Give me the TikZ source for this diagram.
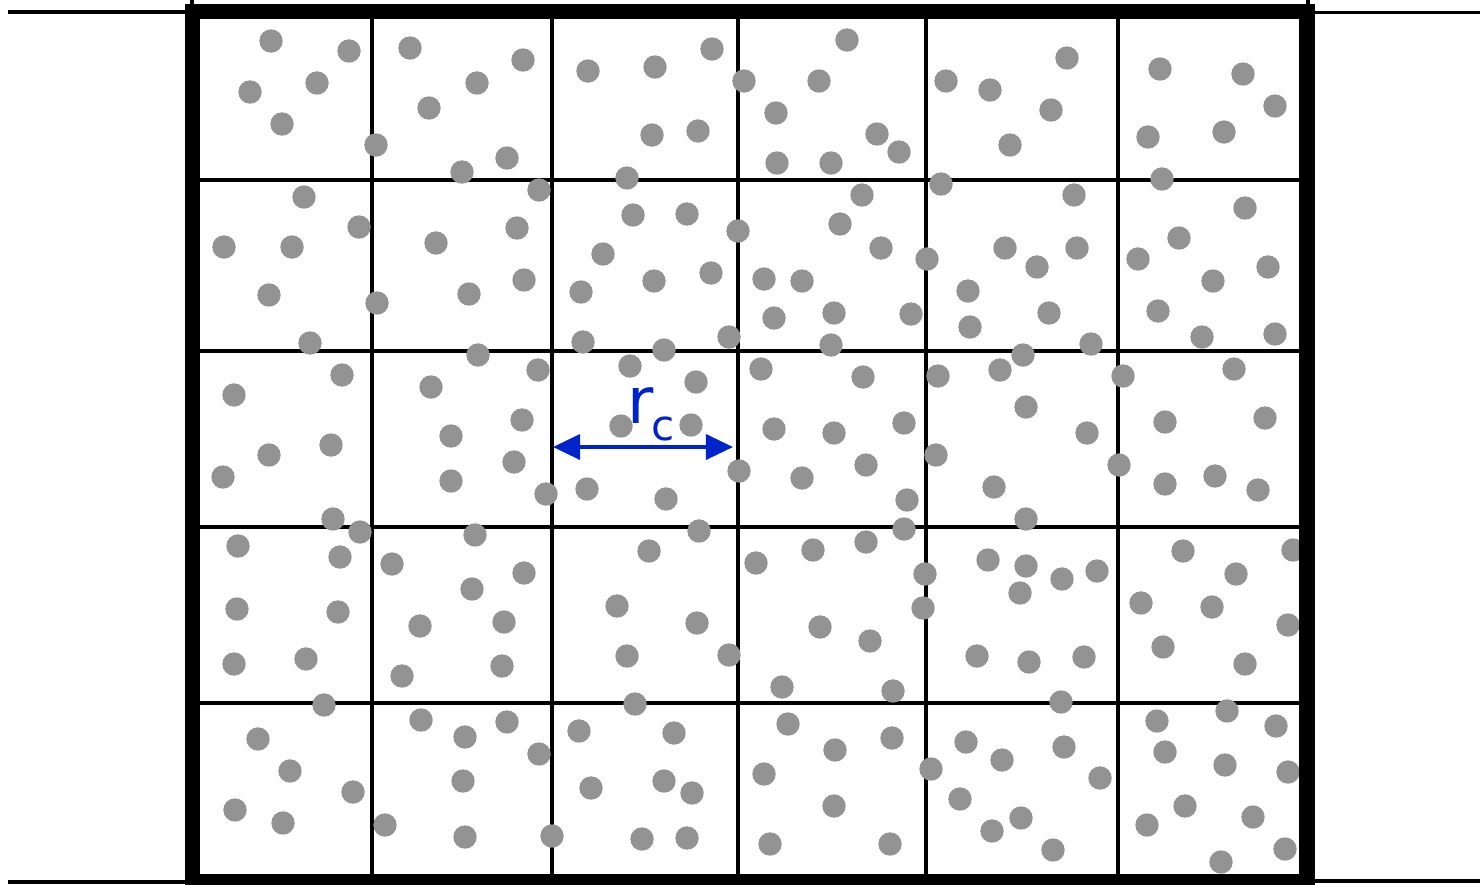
\documentclass[tikz,border=0pt]{standalone}
\usepackage{fontspec}
\newfontfamily\labelfont{DejaVu Sans}
\usetikzlibrary{arrows.meta}
\definecolor{dotgray}{RGB}{147,147,147}
\definecolor{rcblue}{RGB}{0,36,204}
\tikzset{
  framebox/.style={line width=4.4pt, draw=black},
  gridline/.style={line width=0.95pt, draw=black},
  outline/.style={line width=1pt, draw=black},
  particle/.style={fill=dotgray},
  rcarrow/.style={draw=rcblue, line width=1.1pt, {Triangle[length=7.7pt,width=7.1pt]}-{Triangle[length=7.7pt,width=7.1pt]}},
  rcbig/.style={text=rcblue, inner sep=0pt, anchor=base west, font=\labelfont\fontsize{18.2pt}{20pt}\selectfont},
  rcsmall/.style={text=rcblue, inner sep=0pt, anchor=base west, font=\labelfont\fontsize{12pt}{14pt}\selectfont}
}
\begin{document}
\begin{tikzpicture}[x=0.01cm,y=-0.01cm]
\useasboundingbox (0,0) rectangle (1480,884);
% outside lines
\draw[outline] (8,12) -- (186,12);
\draw[outline] (1315,12.5) -- (1480,12.5);
\draw[outline] (8,882) -- (186,882);
\draw[outline] (1315,881) -- (1480,881);
\draw[outline] (192,0) -- (192,12);
\draw[outline] (1308,0) -- (1308,12);
% grid
\foreach \gx in {372,552,738,926,1118} \draw[gridline] (\gx,11) -- (\gx,881);
\foreach \gy in {180,351,527,703} \draw[gridline] (192,\gy) -- (1307,\gy);
% particles
\foreach \px/\py in {
271/41,349/51,250/92,317/83,282/124,376/145,
304/197,359/227,224/247,292/247,269/295,377/303,310/343,
342/375,234/395,331/445,269/455,223/477,333/519,360/532,238/546,340/557,237/609,338/612,234/664,306/659,324/705,258/739,290/771,353/792,235/810,283/823,385/825,
410/48,523/60,477/83,429/108,507/158,462/172,539/190,436/243,517/228,524/280,469/294,478/355,538/370,431/387,522/420,451/436,514/462,451/481,546/494,475/535,392/564,524/573,472/589,420/626,504/622,402/676,502/666,421/720,465/737,507/722,539/754,463/781,465/837,552/836,
588/71,655/67,712/49,744/81,652/135,698/131,627/178,633/215,687/214,738/231,603/254,654/281,711/273,581/292,583/342,664/350,729/337,630/366,696/382,621/426,691/425,739/471,587/489,666/499,699/531,649/551,617/606,697/623,627/656,729/655,635/704,579/731,674/733,591/788,664/781,692/793,642/839,687/838,
847/40,819/81,776/113,877/134,899/152,777/163,831/163,862/195,840/224,881/248,927/259,764/279,802/281,774/318,834/313,911/314,831/345,761/369,863/377,774/429,834/433,904/423,802/478,866/465,907/500,904/529,866/542,813/550,756/563,925/574,923/608,820/627,870/641,782/687,893/691,788/724,835/750,892/738,764/774,931/769,834/806,770/844,890/844,
1067/58,946/81,990/90,1051/110,1010/145,941/184,1074/195,1005/248,1077/248,1037/267,968/291,1049/313,970/327,1091/344,1023/355,1000/370,938/376,1026/407,1087/433,936/455,994/487,1026/519,1119/465,988/560,1026/566,1062/579,1097/571,1020/593,977/656,1029/662,1084/657,1061/702,966/742,1002/760,1064/747,960/799,1021/818,992/831,1053/850,1100/778,
1160/69,1243/74,1275/106,1148/137,1224/132,1162/179,1245/208,1179/238,1138/259,1268/267,1213/281,1158/311,1202/337,1275/334,1123/376,1234/369,1165/422,1265/418,1165/484,1215/476,1258/490,1183/551,1293/550,1236/574,1141/603,1212/607,1288/625,1163/647,1245/664,1157/721,1227/711,1276/726,1165/752,1225/765,1288/772,1185/806,1253/817,1147/825,1285/849,1221/862}
  \fill[particle] (\px,\py) circle[radius=11.7];
% frame
\draw[framebox] (192.5,11.3) rectangle (1307,881.5);
% r_c arrow and label
\coordinate (rcL) at (553,447);
\coordinate (rcR) at (733,447);
\draw[rcarrow] (rcL) -- (rcR);
\node[rcbig] (rlabel) at (627,423) {r};
\node[rcsmall] (clabel) at (651,440) {c};
\end{tikzpicture}
\end{document}
